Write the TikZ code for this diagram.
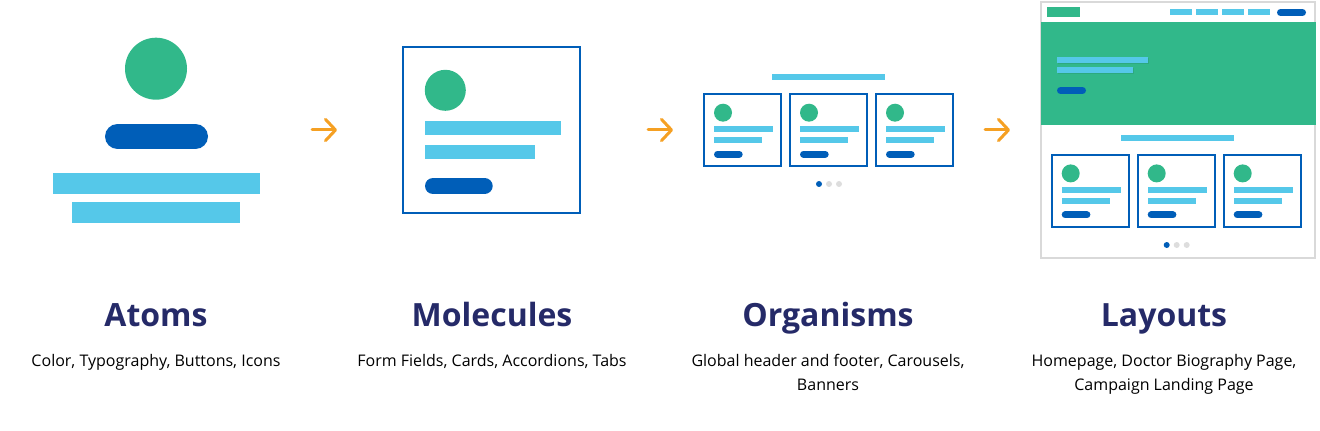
\documentclass[tikz,border=0pt]{standalone}
\usepackage{fontspec}
\setmainfont{Open Sans}
\usepackage{tikz}
\usepackage{xcolor}
\usetikzlibrary{arrows.meta}

\definecolor{brandgreen}{HTML}{31B88A}
\definecolor{brandblue}{HTML}{005EB8}
\definecolor{skyblue}{HTML}{55C8E9}
\definecolor{arroworange}{HTML}{F5A023}
\definecolor{titlenavy}{HTML}{252A68}
\definecolor{framegray}{HTML}{D9D9D9}
\definecolor{dotgray}{HTML}{DDDDDD}

% small card with avatar, two text lines and a button; top left at (#1,#2)
\newcommand{\minicard}[2]{%
  \begin{scope}[shift={(#1,#2)}]
    \draw[brandblue,line width=1.5pt] (0,0) rectangle (77,-72);
    \fill[brandgreen] (18.7,-18.4) circle (9);
    \fill[skyblue] (9.7,-31.7) rectangle (68.7,-37.7);
    \fill[skyblue] (9.7,-42.7) rectangle (57.7,-48.7);
    \draw[brandblue,line width=5.25pt,line cap=round] (13.2,-59.9) -- (34.9,-59.9);
  \end{scope}}

% carousel dots, first one active
\newcommand{\carouseldots}[2]{%
  \fill[brandblue] (#1,#2) circle (3);
  \fill[dotgray] (#1+10,#2) circle (3);
  \fill[dotgray] (#1+20,#2) circle (3);}

\begin{document}
\begin{tikzpicture}[x=0.75pt,y=0.75pt,
  stagetitle/.style={font=\fontsize{24}{28}\selectfont\bfseries,text=titlenavy,anchor=base},
  stagetext/.style={font=\fontsize{12}{18}\selectfont,align=center,anchor=north,inner sep=0pt},
  stagearrow/.style={arroworange,line width=2.25pt,line cap=round,
    -{Straight Barb[length=7.5pt,width=16pt,round]}}]
\useasboundingbox (0,0) rectangle (1320,-431);

% atoms
\fill[brandgreen] (156,-68.7) circle (31);
\draw[brandblue,line width=18.75pt,line cap=round] (117.5,-136.5) -- (195.5,-136.5);
\fill[skyblue] (53,-173) rectangle (260,-193.7);
\fill[skyblue] (72,-202) rectangle (240,-222.7);

% molecules
\draw[brandblue,line width=1.5pt] (403.3,-47.3) rectangle (580.3,-213);
\fill[brandgreen] (445.3,-90.3) circle (20.5);
\fill[skyblue] (425,-121) rectangle (561,-134.7);
\fill[skyblue] (425,-145) rectangle (535,-158.7);
\draw[brandblue,line width=12pt,line cap=round] (433,-186) -- (484.7,-186);

% organisms
\fill[skyblue] (772,-74) rectangle (885,-80);
\foreach \x in {704.3,790.3,876.3} {\minicard{\x}{-94.3}}
\carouseldots{819}{-184}

% layouts
\draw[framegray,line width=1.5pt] (1041,-2) rectangle (1315,-258);
\fill[brandgreen] (1047,-7) rectangle (1080,-16.7);
\foreach \x in {1170,1196,1222,1248} {\fill[skyblue] (\x,-9) rectangle ++(22,-6);}
\draw[brandblue,line width=5.25pt,line cap=round] (1280.5,-12.5) -- (1302.5,-12.5);
\fill[brandgreen] (1041,-22) rectangle (1316,-125);
\fill[black,opacity=0.08] (1058,-58) rectangle (1149,-64.5);
\fill[black,opacity=0.08] (1058,-68) rectangle (1134,-74.5);
\fill[skyblue] (1057,-57) rectangle (1148,-63);
\fill[skyblue] (1057,-67) rectangle (1133,-73);
\draw[brandblue,line width=5.25pt,line cap=round] (1060.5,-90.5) -- (1082.5,-90.5);
\fill[skyblue] (1121,-135) rectangle (1234,-141);
\foreach \x in {1052,1138,1224} {\minicard{\x}{-155}}
\carouseldots{1166.7}{-245}

% arrows between the stages
\coordinate (arrowAfrom) at (312,-130);
\coordinate (arrowAto) at (337,-130);
\coordinate (arrowBfrom) at (648,-130);
\coordinate (arrowBto) at (673,-130);
\coordinate (arrowCfrom) at (985,-130);
\coordinate (arrowCto) at (1010,-130);
\draw[stagearrow] (arrowAfrom) -- (arrowAto);
\draw[stagearrow] (arrowBfrom) -- (arrowBto);
\draw[stagearrow] (arrowCfrom) -- (arrowCto);

% titles and descriptions
\node[stagetitle] (atomsTitle) at (156,-326.5) {Atoms};
\node[stagetitle] (moleculesTitle) at (492,-326.5) {Molecules};
\node[stagetitle] (organismsTitle) at (828,-326.5) {Organisms};
\node[stagetitle] (layoutsTitle) at (1164,-326.5) {Layouts};
\node[stagetext] (atomsText) at (156,-354) {Color, Typography, Buttons, Icons};
\node[stagetext] (moleculesText) at (492,-354) {Form Fields, Cards, Accordions, Tabs};
\node[stagetext] (organismsText) at (828,-354) {Global header and footer, Carousels,\\Banners};
\node[stagetext] (layoutsText) at (1164,-354) {Homepage, Doctor Biography Page,\\Campaign Landing Page};
\end{tikzpicture}
\end{document}
